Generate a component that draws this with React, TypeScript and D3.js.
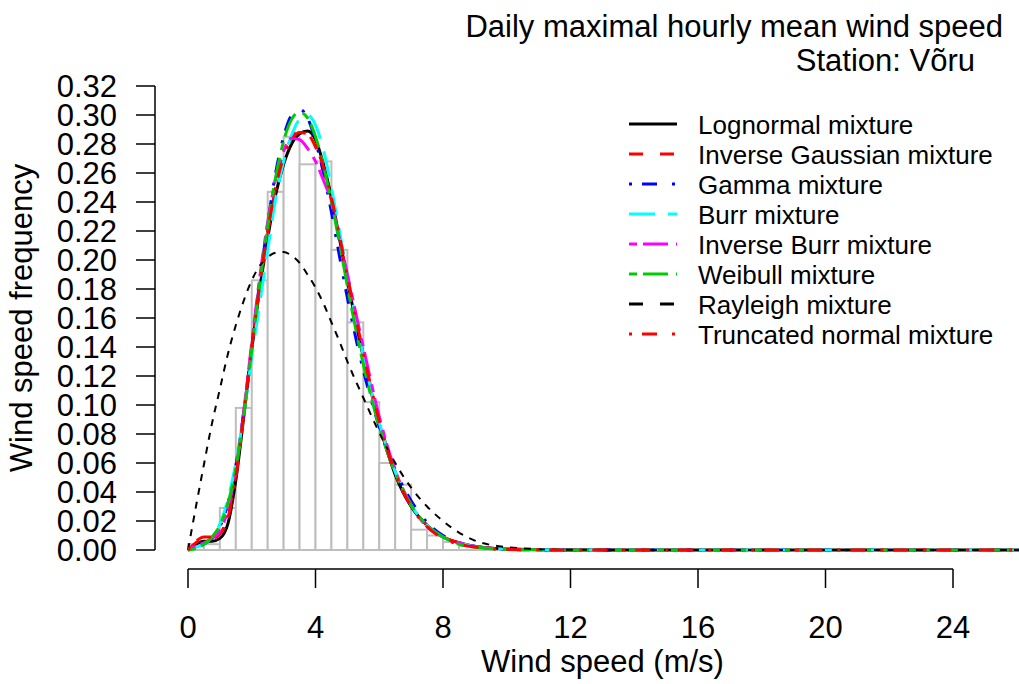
import React from "react";
import * as d3 from "d3";

// ---- data ----
const binWidth = 0.5;
const histFreq = [0.004, 0.004, 0.029, 0.098, 0.186, 0.247, 0.285, 0.266, 0.268, 0.207, 0.157, 0.102, 0.060, 0.045, 0.014, 0.010, 0.0055, 0.003, 0.0015, 0.001, 0.0005];

const gridX = [0, 0.25, 0.5, 0.75, 1, 1.25, 1.5, 1.75, 2, 2.25, 2.5, 2.75, 3, 3.25, 3.5, 3.75, 4, 4.25, 4.5, 4.75, 5, 5.5, 6, 6.5, 7, 7.5, 8, 8.5, 9, 10, 11, 12, 26.3];

const lognormal = [0, 0.004, 0.006, 0.006, 0.008, 0.018, 0.048, 0.092, 0.138, 0.180, 0.215, 0.245, 0.266, 0.280, 0.287, 0.289, 0.283, 0.266, 0.243, 0.215, 0.186, 0.133, 0.087, 0.052, 0.030, 0.017, 0.009, 0.005, 0.0025, 0.0007, 0.0002, 0, 0];
const invGaussian = [0, 0.005, 0.008, 0.008, 0.011, 0.024, 0.052, 0.095, 0.140, 0.182, 0.218, 0.250, 0.271, 0.284, 0.289, 0.287, 0.278, 0.262, 0.241, 0.215, 0.188, 0.135, 0.089, 0.054, 0.031, 0.017, 0.009, 0.005, 0.0025, 0.0007, 0.0002, 0, 0];
const gamma = [0, 0.002, 0.004, 0.008, 0.016, 0.032, 0.058, 0.095, 0.140, 0.185, 0.225, 0.260, 0.285, 0.300, 0.304, 0.298, 0.282, 0.260, 0.233, 0.203, 0.174, 0.124, 0.085, 0.055, 0.034, 0.019, 0.010, 0.005, 0.0025, 0.0006, 0.0001, 0, 0];
const burr = [0, 0.002, 0.004, 0.009, 0.018, 0.035, 0.060, 0.094, 0.133, 0.170, 0.207, 0.242, 0.268, 0.286, 0.297, 0.300, 0.293, 0.276, 0.250, 0.220, 0.190, 0.134, 0.088, 0.054, 0.031, 0.017, 0.009, 0.005, 0.0025, 0.0007, 0.0002, 0, 0];
const invBurr = [0, 0.003, 0.005, 0.008, 0.013, 0.028, 0.055, 0.096, 0.143, 0.188, 0.226, 0.256, 0.275, 0.284, 0.283, 0.277, 0.268, 0.255, 0.240, 0.215, 0.190, 0.140, 0.092, 0.055, 0.031, 0.016, 0.009, 0.005, 0.0025, 0.0007, 0.0002, 0, 0];
const weibull = [0, 0.001, 0.004, 0.009, 0.017, 0.032, 0.056, 0.093, 0.138, 0.183, 0.223, 0.257, 0.282, 0.297, 0.302, 0.298, 0.285, 0.265, 0.240, 0.212, 0.182, 0.128, 0.085, 0.053, 0.031, 0.017, 0.009, 0.004, 0.002, 0.0004, 0.0001, 0, 0];
const rayleigh = [0, 0.030, 0.059, 0.087, 0.111, 0.135, 0.155, 0.172, 0.186, 0.196, 0.202, 0.205, 0.2055, 0.203, 0.198, 0.190, 0.181, 0.170, 0.157, 0.144, 0.130, 0.105, 0.081, 0.060, 0.043, 0.030, 0.020, 0.012, 0.0065, 0.002, 0.0006, 0.0001, 0];
const truncNormal = [0, 0.006, 0.009, 0.009, 0.011, 0.022, 0.050, 0.094, 0.140, 0.183, 0.220, 0.250, 0.271, 0.283, 0.288, 0.287, 0.279, 0.264, 0.243, 0.217, 0.189, 0.136, 0.089, 0.053, 0.030, 0.016, 0.008, 0.004, 0.002, 0.0004, 0.0001, 0, 0];

const xTicks = [0, 4, 8, 12, 16, 20, 24];
const yTicks = [0, 0.02, 0.04, 0.06, 0.08, 0.1, 0.12, 0.14, 0.16, 0.18, 0.2, 0.22, 0.24, 0.26, 0.28, 0.3, 0.32];

const seriesNames = ["Lognormal mixture", "Inverse Gaussian mixture", "Gamma mixture", "Burr mixture", "Inverse Burr mixture", "Weibull mixture", "Rayleigh mixture", "Truncated normal mixture"];
const seriesValues = [lognormal, invGaussian, gamma, burr, invBurr, weibull, rayleigh, truncNormal];
const seriesColors = ["#000000", "#FF0000", "#0000FF", "#00FFFF", "#FF00FF", "#00CD00", "#000000", "#FF0000"];
const seriesDash = ["none", "14,17", "3,10,15,15", "26,13", "8,6,25,8", "8,6,25,8", "14,17", "3,10,15,15"];
const plotDash = ["none", "14,17", "3,10,15,15", "26,13", "8,6,25,8", "8,6,25,8", "7,7", "3,10,15,15"];
const plotWidth = [3, 3, 3, 3, 3, 3, 2, 3];

const W = 1019;
const H = 684;
const FONT = "'Liberation Sans', Arial, Helvetica, sans-serif";
const FS = 31;

export default function App() {
  const x = d3.scaleLinear().domain([0, 26]).range([188, 188 + 26 * 31.875]);
  const y = d3.scaleLinear().domain([0, 0.32]).range([550, 86]);
  const axisLeft = 155;
  const axisBottom = 569;

  const line = (vals: number[]) =>
    d3
      .line<number>()
      .x((_, i) => x(gridX[i]))
      .y((d) => y(d))
      .curve(d3.curveMonotoneX)(vals) || "";

  const legendY0 = 124;
  const legendStep = 30;

  return (
    <div style={{ position: "absolute", left: 0, top: 0 }}>
      <svg width={W} height={H} style={{ display: "block", background: "#fff" }} fontFamily={FONT}>
        <defs>
          <clipPath id="plotclip">
            <rect x={axisLeft} y={60} width={W - axisLeft} height={axisBottom - 60} />
          </clipPath>
        </defs>
        {/* histogram */}
        <g>
          {histFreq.map((f, i) => (
            <rect
              key={i}
              x={x(i * binWidth)}
              y={y(f)}
              width={x((i + 1) * binWidth) - x(i * binWidth)}
              height={y(0) - y(f)}
              fill="#fff"
              stroke="#BEBEBE"
              strokeWidth={2}
            />
          ))}
        </g>
        {/* density curves */}
        <g clipPath="url(#plotclip)">
          {seriesValues.map((vals, i) => (
            <path
              key={i}
              d={line(vals)}
              fill="none"
              stroke={seriesColors[i]}
              strokeWidth={plotWidth[i]}
              strokeDasharray={plotDash[i]}
            />
          ))}
        </g>
        {/* y axis */}
        <g>
          <line x1={axisLeft} x2={axisLeft} y1={y(0.32)} y2={y(0)} stroke="#000" strokeWidth={1.5} />
          {yTicks.map((t) => (
            <g key={t}>
              <line x1={axisLeft - 19} x2={axisLeft} y1={y(t)} y2={y(t)} stroke="#000" strokeWidth={1.5} />
              <text x={117} y={y(t) + 11} textAnchor="end" fontSize={FS}>
                {t.toFixed(2)}
              </text>
            </g>
          ))}
          <text transform={`translate(32, ${(y(0) + y(0.32)) / 2}) rotate(-90)`} textAnchor="middle" fontSize={FS}>
            Wind speed frequency
          </text>
        </g>
        {/* x axis */}
        <g>
          <line x1={x(0)} x2={x(24)} y1={axisBottom} y2={axisBottom} stroke="#000" strokeWidth={1.5} />
          {xTicks.map((t) => (
            <g key={t}>
              <line x1={x(t)} x2={x(t)} y1={axisBottom} y2={axisBottom + 19} stroke="#000" strokeWidth={1.5} />
              <text x={x(t)} y={638} textAnchor="middle" fontSize={FS}>
                {t}
              </text>
            </g>
          ))}
          <text x={(x(0) + 1017) / 2} y={672} textAnchor="middle" fontSize={FS}>
            Wind speed (m/s)
          </text>
        </g>
        {/* title */}
        <text x={1003} y={37} textAnchor="end" fontSize={FS}>
          Daily maximal hourly mean wind speed
        </text>
        <text x={975} y={71} textAnchor="end" fontSize={FS}>
          Station: Võru
        </text>
        {/* legend */}
        <g>
          {seriesNames.map((n, i) => {
            const ly = legendY0 + i * legendStep;
            return (
              <g key={n}>
                <line x1={629} x2={677} y1={ly} y2={ly} stroke={seriesColors[i]} strokeWidth={3} strokeDasharray={seriesDash[i]} />
                <text x={698} y={ly + 9.5} fontSize={26}>
                  {n}
                </text>
              </g>
            );
          })}
        </g>
      </svg>
    </div>
  );
}
